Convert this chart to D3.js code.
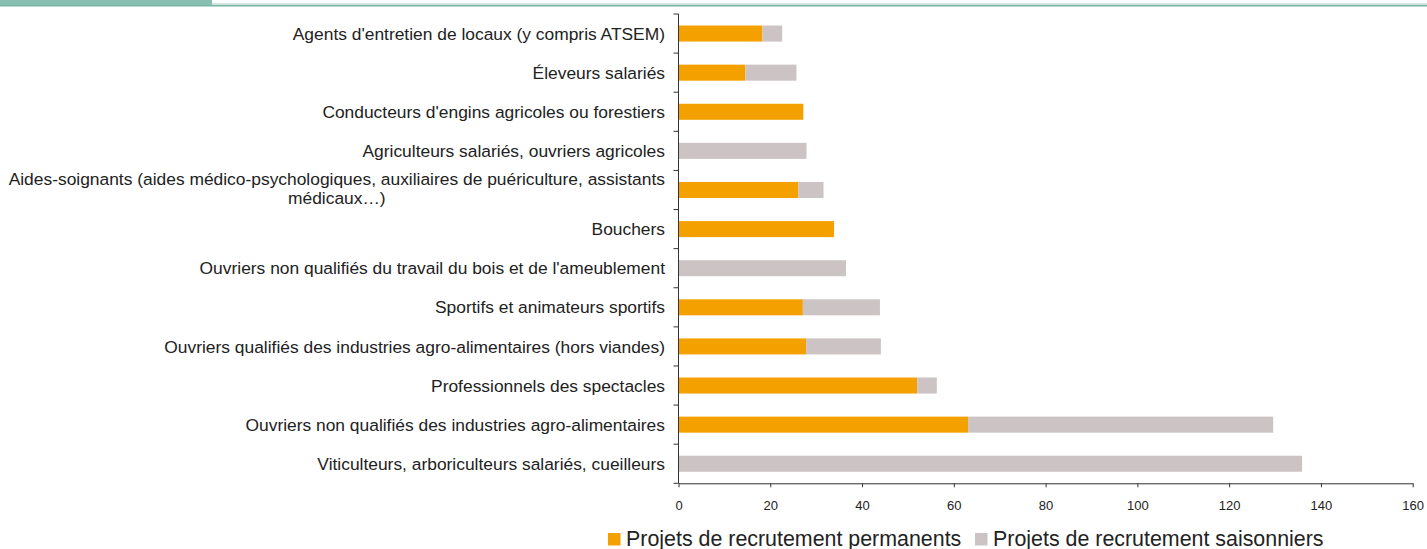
<!DOCTYPE html>
<html>
<head>
<meta charset="utf-8">
<script src="https://cdn.jsdelivr.net/npm/d3@7"></script>
<style>
	body { margin: 0; background: #fff; }
	svg { display: block; font-family: "Liberation Sans", Arial, sans-serif; }
</style>
</head>
<body>
<svg id="container"></svg>
<script>
// categories (top to bottom as drawn)
const categories = [
	"Agents d'entretien de locaux (y compris ATSEM)",
	"Éleveurs salariés",
	"Conducteurs d'engins agricoles ou forestiers",
	"Agriculteurs salariés, ouvriers agricoles",
	"Aides-soignants (aides médico-psychologiques, auxiliaires de puériculture, assistants médicaux…)",
	"Bouchers",
	"Ouvriers non qualifiés du travail du bois et de l'ameublement",
	"Sportifs et animateurs sportifs",
	"Ouvriers qualifiés des industries agro-alimentaires (hors viandes)",
	"Professionnels des spectacles",
	"Ouvriers non qualifiés des industries agro-alimentaires",
	"Viticulteurs, arboriculteurs salariés, cueilleurs"
];
const permanents  = [18.3, 14.6, 27.2, 0, 26.1, 33.9, 0, 27.1, 27.8, 52.0, 63.1, 0];
const saisonniers = [4.3, 11.1, 0, 27.9, 5.5, 0, 36.5, 16.8, 16.3, 4.3, 66.5, 135.9];
const seriesNames = ["Projets de recrutement permanents", "Projets de recrutement saisonniers"];
const xTicks = [0, 20, 40, 60, 80, 100, 120, 140, 160];

const colors = ["#f4a100", "#ccc4c4"];

const W = 1427, H = 549;
const margin = { top: 14, left: 678.5, right: 14.3, bottom: 65.7 };
const w = W - margin.left - margin.right,
	h = H - margin.top - margin.bottom;

const svg = d3.select("#container").attr("width", W).attr("height", H);

// header band
svg.append("rect").attr("x", 0).attr("y", 0).attr("width", 212).attr("height", 5).attr("fill", "#89bfb1");
svg.append("rect").attr("x", 212).attr("y", 3).attr("width", W - 212).attr("height", 2).attr("fill", "#cfe5de");
svg.append("rect").attr("x", 0).attr("y", 5).attr("width", W).attr("height", 1.5).attr("fill", "#7ab3a4");

const g = svg.append("g").attr("transform", "translate(" + margin.left + "," + margin.top + ")");

const x = d3.scaleLinear().domain([0, 160]).range([0, w]);
// inner gap 0.59 of the step, half of it at each end so ticks sit on band edges
const y = d3.scaleBand().domain(categories).range([0, h]).paddingInner(0.59).paddingOuter(0.295);
const yEdge = d3.scaleLinear().domain([0, categories.length]).range([0, h]);

// stacked data
const rows = categories.map((c, i) => ({ cat: c, perm: permanents[i], sais: saisonniers[i] }));
const stack = d3.stack().keys(["perm", "sais"])(rows);

g.selectAll("g.series")
	.data(stack)
	.enter()
	.append("g")
	.attr("fill", (d, i) => colors[i])
	.selectAll("rect")
	.data(d => d)
	.enter()
	.append("rect")
	.attr("x", d => x(d[0]))
	.attr("y", d => y(d.data.cat))
	.attr("width", d => x(d[1]) - x(d[0]))
	.attr("height", y.bandwidth());

// x axis
const gX = g.append("g")
	.attr("transform", "translate(0," + h + ")")
	.call(d3.axisBottom(x).tickValues(xTicks).tickSize(4).tickSizeOuter(0));
gX.select(".domain").attr("stroke", "#333");
gX.selectAll(".tick line").attr("stroke", "#333");
gX.selectAll(".tick text")
	.attr("font-size", "13px")
	.attr("fill", "#222")
	.attr("dy", "0")
	.attr("y", 27);

// y axis: line + ticks at band edges
g.append("line").attr("x1", 0).attr("x2", 0).attr("y1", 0).attr("y2", h).attr("stroke", "#333");
g.selectAll("line.ytick")
	.data(d3.range(categories.length + 1))
	.enter()
	.append("line")
	.attr("class", "ytick")
	.attr("x1", -5).attr("x2", 0)
	.attr("y1", d => yEdge(d)).attr("y2", d => yEdge(d))
	.attr("stroke", "#333");

// y labels
const labelGap = 13.5, maxLabel = 665, lineH = 19;
const labels = g.selectAll("text.ylabel")
	.data(categories)
	.enter()
	.append("text")
	.attr("class", "ylabel")
	.attr("font-size", "17.4px")
	.attr("fill", "#222")
	.attr("x", -labelGap)
	.attr("y", d => y(d) + y.bandwidth() / 2)
	.attr("dy", "0.35em")
	.attr("text-anchor", "end")
	.text(d => d);

labels.each(function (d) {
	const t = d3.select(this);
	if (this.getComputedTextLength() <= maxLabel) return;
	const words = d.split(/\s+/);
	const lines = [];
	let line = [];
	t.text(null);
	const probe = t.append("tspan");
	words.forEach(wd => {
		line.push(wd);
		probe.text(line.join(" "));
		if (probe.node().getComputedTextLength() > maxLabel && line.length > 1) {
			line.pop();
			lines.push(line.join(" "));
			line = [wd];
		}
	});
	lines.push(line.join(" "));
	probe.text(lines[0]);
	const widest = probe.node().getComputedTextLength();
	probe.remove();
	const cx = -labelGap - widest / 2;
	const cy = y(d) + y.bandwidth() / 2 - 1.5;
	t.attr("text-anchor", "middle").attr("dy", null);
	lines.forEach((ln, k) => {
		t.append("tspan")
			.attr("x", cx)
			.attr("y", cy + (k - (lines.length - 1) / 2) * lineH)
			.attr("dy", "0.35em")
			.text(ln);
	});
});

// legend
const legendX = [608, 975];
const legend = svg.selectAll("g.legend")
	.data(seriesNames)
	.enter()
	.append("g")
	.attr("transform", (d, i) => "translate(" + legendX[i] + ",533)");
legend.append("rect").attr("width", 12.5).attr("height", 12.5).attr("fill", (d, i) => colors[i]);
legend.append("text")
	.attr("x", 18)
	.attr("y", 12.5)
	.attr("font-size", "21.4px")
	.attr("fill", "#222")
	.text(d => d);
</script>
</body>
</html>
